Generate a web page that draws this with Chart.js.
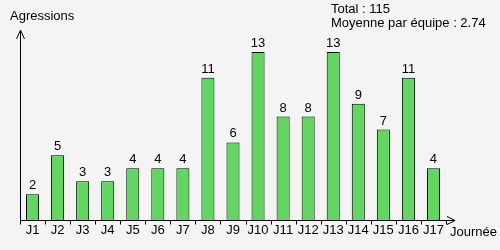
<!DOCTYPE html>
<html>
<head>
<meta charset="utf-8">
<script src="https://cdn.jsdelivr.net/npm/chart.js@4"></script>
<style>
  body { margin: 0; background: #f4f4f4; }
  #box { width: 500px; height: 250px; }
</style>
</head>
<body>
<div id="box"><canvas id="agressions" width="500" height="250"></canvas></div>
<script>
// Données
const journees = ["J1", "J2", "J3", "J4", "J5", "J6", "J7", "J8", "J9", "J10", "J11", "J12", "J13", "J14", "J15", "J16", "J17"];
const agressions = [2, 5, 3, 3, 4, 4, 4, 11, 6, 13, 8, 8, 13, 9, 7, 11, 4];
const total = 115;
const moyenne = "2.74";

const police = "Arial, 'Liberation Sans', sans-serif";

// Axes avec flèches, titres et valeurs au-dessus des barres
const decor = {
    id: "decor",
    afterDatasetsDraw(chart) {
        const ctx = chart.ctx;
        const zone = chart.chartArea;
        const echelleX = chart.scales.x;
        const x0 = Math.round(zone.left) + 0.5;
        const y0 = Math.round(zone.bottom) + 0.5;
        ctx.save();
        ctx.strokeStyle = "#000";
        ctx.lineWidth = 1;
        ctx.beginPath();
        // axe vertical
        ctx.moveTo(x0, y0);
        ctx.lineTo(x0, 30);
        ctx.moveTo(x0 - 4, 39);
        ctx.lineTo(x0, 30);
        ctx.lineTo(x0 + 4, 39);
        // axe horizontal
        ctx.moveTo(x0, y0);
        ctx.lineTo(455, y0);
        ctx.moveTo(447, y0 - 4);
        ctx.lineTo(455, y0);
        ctx.lineTo(447, y0 + 4);
        // graduations entre les journées
        const demi = (echelleX.getPixelForValue(1) - echelleX.getPixelForValue(0)) / 2;
        for (let i = 0; i <= journees.length; i++) {
            const x = Math.round(echelleX.getPixelForValue(i) - demi) + 0.5;
            ctx.moveTo(x, y0);
            ctx.lineTo(x, y0 + 4);
        }
        ctx.stroke();

        ctx.fillStyle = "#000";
        ctx.font = "13px " + police;
        ctx.textAlign = "left";
        ctx.textBaseline = "alphabetic";
        ctx.fillText("Agressions", 10, 20);
        ctx.fillText("Journée", 450, 236);
        ctx.fillText("Total : " + total, 331, 13);
        ctx.fillText("Moyenne par équipe : " + moyenne, 331, 27);

        // valeurs
        ctx.textAlign = "center";
        const meta = chart.getDatasetMeta(0);
        meta.data.forEach((barre, i) => {
            ctx.fillText(String(agressions[i]), barre.x, barre.y - 5);
        });
        ctx.restore();
    }
};

new Chart(document.getElementById("agressions").getContext("2d"), {
    type: "bar",
    data: {
        labels: journees,
        datasets: [
            {
                label: "Agressions",
                data: agressions,
                backgroundColor: "#60d860",
                borderColor: "#000",
                borderWidth: 1,
                barPercentage: 0.52,
                categoryPercentage: 1
            }
        ]
    },
    options: {
        responsive: false,
        animation: false,
        layout: {
            padding: { left: 20, right: 54, top: 30, bottom: 12.4 }
        },
        plugins: {
            legend: { display: false },
            tooltip: { enabled: false }
        },
        scales: {
            x: {
                border: { display: false },
                grid: {
                    drawOnChartArea: false,
                    drawTicks: true,
                    tickLength: 4,
                    color: "rgba(0,0,0,0)"
                },
                ticks: {
                    color: "#000",
                    padding: -1,
                    maxRotation: 0,
                    minRotation: 0,
                    autoSkip: false,
                    font: { size: 13, family: police }
                }
            },
            y: {
                display: false,
                min: 0,
                max: 14.7
            }
        }
    },
    plugins: [decor]
});
</script>
</body>
</html>
